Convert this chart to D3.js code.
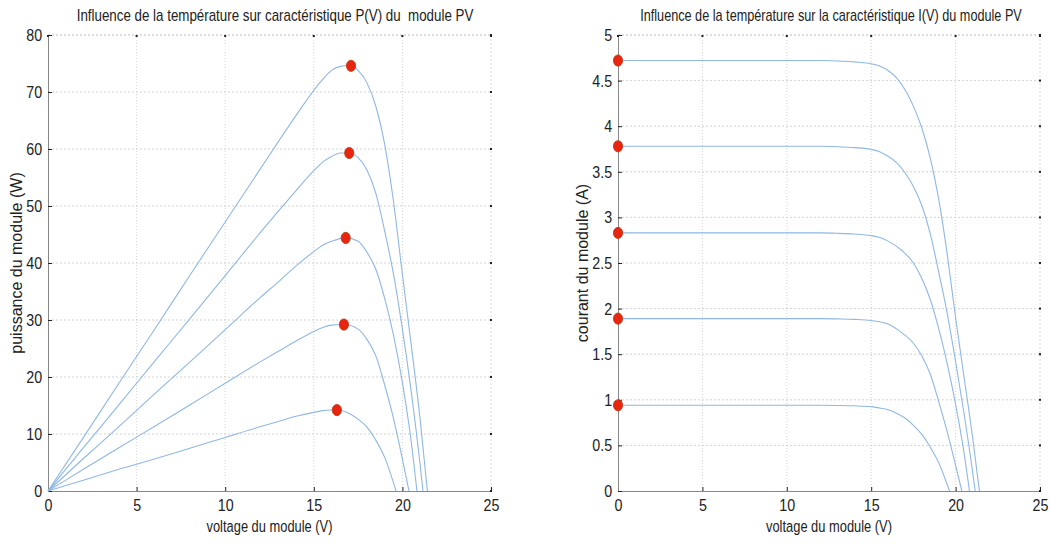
<!DOCTYPE html>
<html><head><meta charset="utf-8">
<script src="https://cdn.jsdelivr.net/npm/d3@7"></script>
<style>
body{margin:0;background:#fff;}
svg{display:block;}
text{font-family:"Liberation Sans",Arial,sans-serif;}
</style></head><body>
<svg id="c" width="1050" height="544"></svg>
<script>
// ---------- DATA ----------
const xTicks = [0,5,10,15,20,25];
const pTicks = [0,10,20,30,40,50,60,70,80];
const iTicks = [0,0.5,1,1.5,2,2.5,3,3.5,4,4.5,5];
const iTickLabels = ["0","0.5","1","1.5","2","2.5","3","3.5","4","4.5","5"];

const v1 = [0,2,4,6,8,10,12,13,14,15,15.5,16,16.5,17.1,17.5,18,18.5,19,19.5,20,20.5,21,21.41];
const i1 = [4.72,4.72,4.72,4.72,4.72,4.72,4.72,4.715,4.705,4.685,4.66,4.61,4.53,4.37,4.22,3.98,3.65,3.20,2.60,1.90,1.25,0.60,0];
const p1 = [0,9.4,18.9,28.3,37.8,47.2,56.6,61.3,65.9,70.3,72.2,73.8,74.5,74.7,73.8,71.6,67.5,60.8,50.7,38.0,25.6,12.6,0];

const v2 = [0,2,4,6,8,10,12,13,14,15,15.5,16,16.5,17,17.5,18,18.5,19,19.5,20,20.5,21,21.16];
const i2 = [3.78,3.78,3.78,3.78,3.78,3.78,3.78,3.775,3.765,3.745,3.72,3.67,3.60,3.49,3.34,3.13,2.82,2.40,1.95,1.42,0.85,0.22,0];
const p2 = [0,7.6,15.1,22.7,30.2,37.8,45.4,49.1,52.7,56.2,57.7,58.7,59.3,59.3,58.5,56.3,52.2,45.6,38.0,28.4,17.4,4.6,0];

const v3 = [0,2,4,6,8,10,12,13,14,15,15.5,16,16.8,17.5,18,18.5,19,19.5,20,20.5,20.82];
const i3 = [2.83,2.83,2.83,2.83,2.83,2.83,2.83,2.826,2.818,2.80,2.78,2.74,2.64,2.50,2.33,2.10,1.78,1.40,0.95,0.42,0];
const p3 = [0,5.7,11.3,17.0,22.6,28.3,34.0,36.7,39.5,42.0,43.1,43.8,44.4,43.8,41.9,38.9,33.8,27.3,19.0,8.6,0];

const v4 = [0,2,4,6,8,10,12,13,14,15,15.5,16,16.7,17.5,18,18.5,19,19.5,20,20.37];
const i4 = [1.89,1.89,1.89,1.89,1.89,1.89,1.89,1.887,1.882,1.87,1.855,1.83,1.75,1.62,1.48,1.28,0.98,0.65,0.28,0];
const p4 = [0,3.8,7.6,11.3,15.1,18.9,22.7,24.5,26.3,28.0,28.7,29.1,29.2,28.4,26.6,23.7,18.6,12.7,5.6,0];

const v5 = [0,2,4,6,8,10,12,13,14,15,15.5,16,16.3,17,17.5,18,18.5,19,19.64];
const i5 = [0.94,0.94,0.94,0.94,0.94,0.94,0.94,0.938,0.934,0.925,0.91,0.89,0.87,0.80,0.72,0.62,0.48,0.31,0];
const p5 = [0,1.9,3.8,5.6,7.5,9.4,11.3,12.2,13.1,13.8,14.1,14.2,14.2,13.6,12.6,11.2,8.9,5.9,0];

const mppV = [17.1,17.0,16.8,16.7,16.3];
const mppP = [74.6,59.3,44.4,29.2,14.2];
const iscV = [0,0,0,0,0];
const iscI = [4.72,3.78,2.83,1.89,0.94];

const titles = ["Influence de la température sur caractéristique P(V) du  module PV",
                "Influence de la température sur la caractéristique I(V) du module PV"];
const xLabel = "voltage du module (V)";
const yLabels = ["puissance du module (W)","courant du module (A)"];

// ---------- DRAW ----------
const svg = d3.select("#c");
const lineColor = "#8fb8e4";
const gridColor = "#c8c8c8";

// horizontal text condensed to a target width via a scale transform
function fitText(cx, cy, str, size, targetW){
  const t = svg.append("text").attr("x",0).attr("y",0).attr("text-anchor","middle")
    .attr("font-size",size).attr("fill","#222").attr("xml:space","preserve").text(str);
  const w = t.node().getComputedTextLength();
  const k = Math.min(1, targetW / w);
  t.attr("transform",`translate(${cx},${cy}) scale(${k},1)`);
  return t;
}

function panel(opts){
  const {x0,x1,y0,y1,yMax,yTicks,yTickFmt,series,marks,title,yLab,yLabX,titleX,titleW} = opts;
  const x = d3.scaleLinear().domain([0,25]).range([x0,x1]);
  const y = d3.scaleLinear().domain([0,yMax]).range([y0,y1]);
  const g = svg.append("g");
  // grid
  g.selectAll(".gx").data(xTicks.slice(1,-1)).join("line")
    .attr("x1",d=>x(d)).attr("x2",d=>x(d)).attr("y1",y0).attr("y2",y1)
    .attr("stroke",gridColor).attr("stroke-width",0.8).attr("stroke-dasharray","1,2");
  g.selectAll(".gy").data(yTicks.slice(1,-1)).join("line")
    .attr("y1",d=>y(d)).attr("y2",d=>y(d)).attr("x1",x0).attr("x2",x1)
    .attr("stroke",gridColor).attr("stroke-width",0.8).attr("stroke-dasharray","2,2");
  // top & right border (dotted)
  g.append("line").attr("x1",x0).attr("x2",x1).attr("y1",y1).attr("y2",y1)
    .attr("stroke","#bbb").attr("stroke-dasharray","2,2");
  g.append("line").attr("x1",x1).attr("x2",x1).attr("y1",y1).attr("y2",y0)
    .attr("stroke","#ddd").attr("stroke-dasharray","2,2");
  // axes
  const ax = d3.axisBottom(x).tickValues(xTicks).tickSize(-4).tickPadding(8).tickFormat(d3.format("d"));
  const gx = g.append("g").attr("transform",`translate(0,${y0})`).call(ax);
  gx.select(".domain").attr("stroke","#888");
  gx.selectAll(".tick line").attr("stroke","#222");
  gx.selectAll("text").attr("font-size",17).attr("fill","#222")
    .attr("font-family","Liberation Sans, Arial, sans-serif")
    .attr("transform","scale(0.84,1)");
  const ay = d3.axisLeft(y).tickValues(yTicks).tickSize(-4).tickPadding(7).tickFormat(yTickFmt);
  const gy = g.append("g").attr("transform",`translate(${x0},0)`).call(ay);
  gy.select(".domain").attr("stroke","#888");
  gy.selectAll(".tick line").attr("stroke","#222");
  gy.selectAll("text").attr("font-size",17).attr("fill","#222")
    .attr("font-family","Liberation Sans, Arial, sans-serif")
    .attr("transform","scale(0.84,1)");
  // top/right tick dots
  g.selectAll(".tt").data(xTicks).join("rect")
    .attr("x",d=>x(d)-1).attr("y",y1).attr("width",2).attr("height",2).attr("fill","#222");
  g.selectAll(".rt").data(yTicks).join("rect")
    .attr("x",x1-1).attr("y",d=>y(d)-1).attr("width",2).attr("height",2).attr("fill","#222");
  // lines
  const line = d3.line().x(d=>x(d[0])).y(d=>y(d[1])).curve(d3.curveMonotoneX);
  series.forEach(s=>{
    g.append("path").datum(d3.zip(s[0],s[1])).attr("d",line)
      .attr("fill","none").attr("stroke",lineColor).attr("stroke-width",1.1);
  });
  // markers
  g.selectAll(".mk").data(d3.zip(marks[0],marks[1])).join("ellipse")
    .attr("cx",d=>x(d[0])).attr("cy",d=>y(d[1])).attr("rx",4.6).attr("ry",5.6)
    .attr("fill","#e8250f").attr("stroke","#c0300a").attr("stroke-width",0.8);
  // title
  fitText(titleX, 21, title, 16, titleW);
  // xlabel
  fitText((x0+x1)/2, 532, xLabel, 17, 126);
  // ylabel
  svg.append("text").attr("transform",`translate(${yLabX},${(y0+y1)/2}) rotate(-90)`)
    .attr("text-anchor","middle").attr("font-size",16).attr("fill","#222").text(yLab);
}

panel({x0:48,x1:491,y0:491,y1:35,yMax:80,yTicks:pTicks,yTickFmt:d3.format("d"),
  series:[[v1,p1],[v2,p2],[v3,p3],[v4,p4],[v5,p5]],marks:[mppV,mppP],
  title:titles[0],yLab:yLabels[0],yLabX:22,titleX:275,titleW:397});
panel({x0:618,x1:1040,y0:491,y1:35,yMax:5,yTicks:iTicks,yTickFmt:(d,i)=>iTickLabels[i],
  series:[[v1,i1],[v2,i2],[v3,i3],[v4,i4],[v5,i5]],marks:[iscV,iscI],
  title:titles[1],yLab:yLabels[1],yLabX:588,titleX:831,titleW:382});
</script>
</body></html>
